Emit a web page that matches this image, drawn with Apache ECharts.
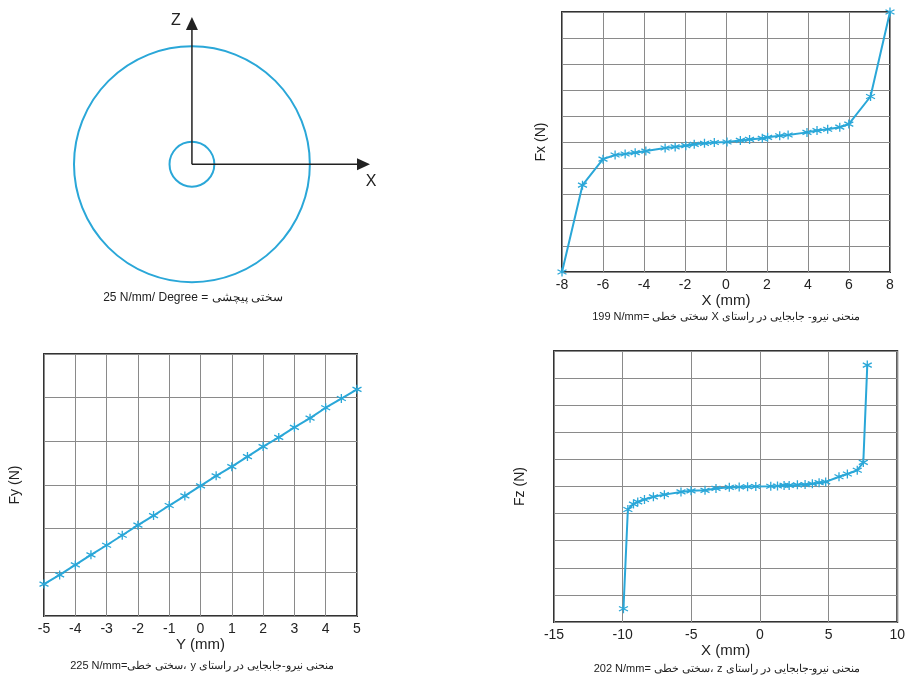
<!DOCTYPE html>
<html>
<head>
<meta charset="utf-8">
<script src="https://cdn.jsdelivr.net/npm/echarts@6/dist/echarts.min.js"></script>
<style>
  html, body { margin: 0; padding: 0; background: #fff; }
  #chart { width: 908px; height: 679px; }
</style>
</head>
<body>
<div id="chart"></div>
<script>
// Torsion sketch: ring radii (outer ring = 1) and axis arrows
const ringRadii = [1.0, 0.19];
const axisArrows = [
  { name: 'X', from: [0, 0], to: [1.51, 0] },
  { name: 'Z', from: [0, 0], to: [0, 1.25] }
];

// Force–displacement in X direction (displacement mm, force in grid units)
const fxDisp  = [-8, -7, -6, -5.41, -4.92, -4.43, -3.91, -2.97, -2.48, -1.96, -1.55, -1.05, -0.57, 0.05, 0.70, 1.15, 1.77, 2.03, 2.62, 3.03, 3.95, 4.44, 4.96, 5.55, 5.99, 7.05, 8];
const fxForce = [0, 3.34, 4.34, 4.50, 4.54, 4.59, 4.65, 4.77, 4.81, 4.86, 4.91, 4.95, 4.98, 5.00, 5.06, 5.10, 5.14, 5.18, 5.24, 5.27, 5.37, 5.44, 5.49, 5.57, 5.69, 6.75, 10];

// Force–displacement in Y direction
const fyDisp  = [-5, -4.5, -4, -3.5, -3, -2.5, -2, -1.5, -1, -0.5, 0, 0.5, 1, 1.5, 2, 2.5, 3, 3.5, 4, 4.5, 5];
const fyForce = [0.73, 0.94, 1.17, 1.40, 1.62, 1.85, 2.08, 2.30, 2.53, 2.75, 2.98, 3.21, 3.42, 3.65, 3.88, 4.09, 4.32, 4.53, 4.77, 4.98, 5.19];

// Force–displacement in Z direction
const fzDisp  = [-9.94, -9.62, -9.21, -8.90, -8.41, -7.76, -6.96, -5.75, -5.02, -4.00, -3.20, -2.23, -1.51, -0.90, -0.30, 0.79, 1.28, 1.76, 2.13, 2.73, 3.29, 3.82, 4.31, 4.79, 5.76, 6.37, 7.09, 7.53, 7.82];
const fzForce = [0.49, 4.15, 4.35, 4.43, 4.52, 4.62, 4.70, 4.80, 4.84, 4.86, 4.93, 4.97, 4.98, 4.99, 5.00, 5.01, 5.02, 5.04, 5.04, 5.06, 5.07, 5.10, 5.14, 5.17, 5.36, 5.46, 5.60, 5.89, 9.48];

// Tick settings
const fxTicks = { min: -8, max: 8, interval: 2 };
const fyTicks = { min: -5, max: 5, interval: 1 };
const fzTicks = { min: -15, max: 10, interval: 5 };

// Captions and axis titles
const captions = [
  '25 N/mm/ Degree = سختی پیچشی',
  '199 N/mm= سختی خطی X منحنی نیرو- جابجایی در راستای',
  '225 N/mm=سختی خطی، y منحنی نیرو-جابجایی در راستای',
  '202 N/mm= سختی خطی، z منحنی نیرو-جابجایی در راستای'
];

const LINE = '#2aa7d8';
const FONT = '"Liberation Sans", Arial, sans-serif';
const STAR = 'path://M5,0L5,10M0.67,2.5L9.33,7.5M0.67,7.5L9.33,2.5';

const zip = (a, b) => a.map((v, i) => [v, b[i]]);

function plotX(idx, t, name, gap) {
  return {
    gridIndex: idx, type: 'value', min: t.min, max: t.max, interval: t.interval,
    name: name, nameLocation: 'middle', nameGap: gap,
    nameTextStyle: { fontFamily: FONT, fontSize: 15, color: '#222' },
    axisLine: { show: false }, axisTick: { show: false },
    axisLabel: { fontFamily: FONT, fontSize: 14, color: '#222', margin: 6 },
    splitLine: { show: true, lineStyle: { color: '#8a8a8a', width: 1 } }
  };
}
function plotY(idx, max, name, gap) {
  return {
    gridIndex: idx, type: 'value', min: 0, max: max, interval: 1,
    name: name, nameLocation: 'middle', nameGap: gap,
    nameTextStyle: { fontFamily: FONT, fontSize: 14, color: '#222' },
    axisLine: { show: false }, axisTick: { show: false },
    axisLabel: { show: false },
    splitLine: { show: true, lineStyle: { color: '#8a8a8a', width: 1 } }
  };
}
function curve(idx, data) {
  return {
    type: 'line', xAxisIndex: idx, yAxisIndex: idx, data: data,
    symbol: STAR, symbolSize: 9, showSymbol: true, silent: true,
    lineStyle: { color: LINE, width: 2 },
    itemStyle: { color: LINE, borderColor: LINE, borderWidth: 1.3 },
    animation: false
  };
}

const boxStyle = { show: true, borderColor: '#333', borderWidth: 2, backgroundColor: 'transparent' };

const option = {
  animation: false,
  grid: [
    { left: 74, top: 17, width: 296, height: 265 },
    Object.assign({ left: 562, top: 12, width: 328, height: 260 }, boxStyle),
    Object.assign({ left: 44, top: 354, width: 313, height: 262 }, boxStyle),
    Object.assign({ left: 554, top: 351, width: 344, height: 271 }, boxStyle)
  ],
  xAxis: [
    { gridIndex: 0, type: 'value', min: -1, max: 1.51, show: false },
    plotX(1, fxTicks, 'X (mm)', 20),
    plotX(2, fyTicks, 'Y (mm)', 20),
    plotX(3, fzTicks, 'X (mm)', 21)
  ],
  yAxis: [
    { gridIndex: 0, type: 'value', min: -1, max: 1.25, show: false },
    plotY(1, 10, 'Fx (N)', 14),
    plotY(2, 6, 'Fy (N)', 22),
    plotY(3, 10, 'Fz (N)', 27)
  ],
  series: [
    {
      type: 'custom', xAxisIndex: 0, yAxisIndex: 0, silent: true,
      data: ringRadii.map(r => [0, 0, r]),
      renderItem: function (params, api) {
        const c = api.coord([api.value(0), api.value(1)]);
        const e = api.coord([api.value(0) + api.value(2), api.value(1)]);
        return {
          type: 'circle',
          shape: { cx: c[0], cy: c[1], r: e[0] - c[0] },
          style: { fill: 'none', stroke: LINE, lineWidth: 2 }
        };
      }
    },
    {
      type: 'custom', xAxisIndex: 0, yAxisIndex: 0, silent: true,
      data: axisArrows.map(a => [a.from[0], a.from[1], a.to[0], a.to[1]]),
      renderItem: function (params, api) {
        const p0 = api.coord([api.value(0), api.value(1)]);
        const p1 = api.coord([api.value(2), api.value(3)]);
        const dx = p1[0] - p0[0], dy = p1[1] - p0[1];
        const len = Math.sqrt(dx * dx + dy * dy);
        const ux = dx / len, uy = dy / len;
        const hl = 13, hw = 6;
        const bx = p1[0] - ux * hl, by = p1[1] - uy * hl;
        const label = axisArrows[params.dataIndex].name;
        const horizontal = Math.abs(ux) > Math.abs(uy);
        return {
          type: 'group',
          children: [
            { type: 'line', shape: { x1: p0[0], y1: p0[1], x2: bx, y2: by },
              style: { stroke: '#222', lineWidth: 1.5 } },
            { type: 'polygon',
              shape: { points: [[p1[0], p1[1]], [bx - uy * hw, by + ux * hw], [bx + uy * hw, by - ux * hw]] },
              style: { fill: '#222' } },
            { type: 'text',
              x: horizontal ? p1[0] + 1 : p1[0] - 16,
              y: horizontal ? p1[1] + 17 : p1[1] + 4,
              style: { text: label, fontFamily: FONT, fontSize: 16, fill: '#222',
                       align: 'center', verticalAlign: 'middle' } }
          ]
        };
      }
    },
    curve(1, zip(fxDisp, fxForce)),
    curve(2, zip(fyDisp, fyForce)),
    curve(3, zip(fzDisp, fzForce))
  ],
  graphic: [
    { type: 'text', x: 193, y: 298, style: { text: captions[0], fontFamily: FONT, fontSize: 12, fill: '#222', align: 'center', verticalAlign: 'middle' } },
    { type: 'text', x: 726, y: 317, style: { text: captions[1], fontFamily: FONT, fontSize: 11, fill: '#222', align: 'center', verticalAlign: 'middle' } },
    { type: 'text', x: 202, y: 666, style: { text: captions[2], fontFamily: FONT, fontSize: 11, fill: '#222', align: 'center', verticalAlign: 'middle' } },
    { type: 'text', x: 727, y: 669, style: { text: captions[3], fontFamily: FONT, fontSize: 11, fill: '#222', align: 'center', verticalAlign: 'middle' } }
  ]
};

const chart = echarts.init(document.getElementById('chart'), null, { renderer: 'canvas' });
chart.setOption(option);
</script>
</body>
</html>
